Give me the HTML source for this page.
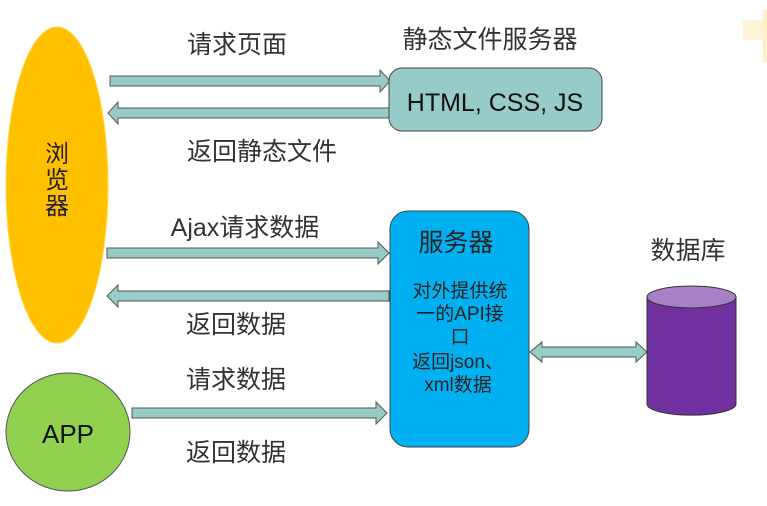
<!DOCTYPE html>
<html><head><meta charset="utf-8"><style>
body{margin:0;width:767px;height:501px;background:#fff;overflow:hidden}
svg text{font-family:"Liberation Sans","Noto Sans CJK SC",sans-serif}
</style></head><body>
<svg width="767" height="501" viewBox="0 0 767 501">
<rect x="743" y="20" width="24" height="20" fill="#fff5d6"/>
<rect x="763" y="10" width="4" height="52" fill="#fff0c8"/>
<ellipse cx="57" cy="185" rx="51" ry="158" fill="#ffc000" stroke="#ffd84a"/>
<text x="57" y="162" font-size="24" text-anchor="middle" fill="#222">浏</text>
<text x="57" y="188" font-size="24" text-anchor="middle" fill="#222">览</text>
<text x="57" y="214" font-size="24" text-anchor="middle" fill="#222">器</text>
<ellipse cx="68" cy="432" rx="62" ry="59" fill="#92d050" stroke="#555"/>
<text x="68" y="443" font-size="26" text-anchor="middle" fill="#111">APP</text>
<g fill="#96cbc8" stroke="#555" stroke-width="1">
<polygon points="110,76 380,76 380,70 390,81 380,92 380,86 110,86"/>
<polygon points="389,108 118,108 118,102 108,113 118,124 118,118 389,118"/>
<polygon points="107,248 378,248 378,242 389,253 378,264 378,258 107,258"/>
<polygon points="389,291 118,291 118,285 107,296 118,307 118,301 389,301"/>
<polygon points="132,408 376,408 376,402 387,413 376,424 376,418 132,418"/>
<polygon points="530,352 542,342 542,347 636,347 636,342 647,352 636,362 636,357 542,357 542,362"/>
</g>
<rect x="389" y="68" width="213" height="63" rx="13" fill="#96cbc8" stroke="#444"/>
<text x="495" y="111" font-size="25" text-anchor="middle" fill="#111">HTML, CSS, JS</text>
<rect x="390" y="211" width="139" height="236" rx="18" fill="#00b0f0" stroke="#444"/>
<text x="456" y="251" font-size="25" text-anchor="middle" fill="#222">服务器</text>
<g font-size="19" text-anchor="middle" fill="#222">
<text x="460" y="297">对外提供统</text>
<text x="460" y="320">一的API接</text>
<text x="460" y="343">口</text>
<text x="458" y="368">返回json、</text>
<text x="458" y="391">xml数据</text>
</g>
<path d="M647,297 L647,404 A44,11 0 0 0 736,404 L736,297 Z" fill="#7030a0" stroke="#333"/>
<ellipse cx="691.5" cy="297" rx="44.5" ry="11" fill="#a880c8" stroke="#333"/>
<g font-size="25" fill="#333" text-anchor="middle">
<text x="237" y="53">请求页面</text>
<text x="490" y="48">静态文件服务器</text>
<text x="262" y="160">返回静态文件</text>
<text x="245" y="236">Ajax请求数据</text>
<text x="236" y="333">返回数据</text>
<text x="236" y="388">请求数据</text>
<text x="236" y="461">返回数据</text>
<text x="688" y="259">数据库</text>
</g>
</svg>
</body></html>
